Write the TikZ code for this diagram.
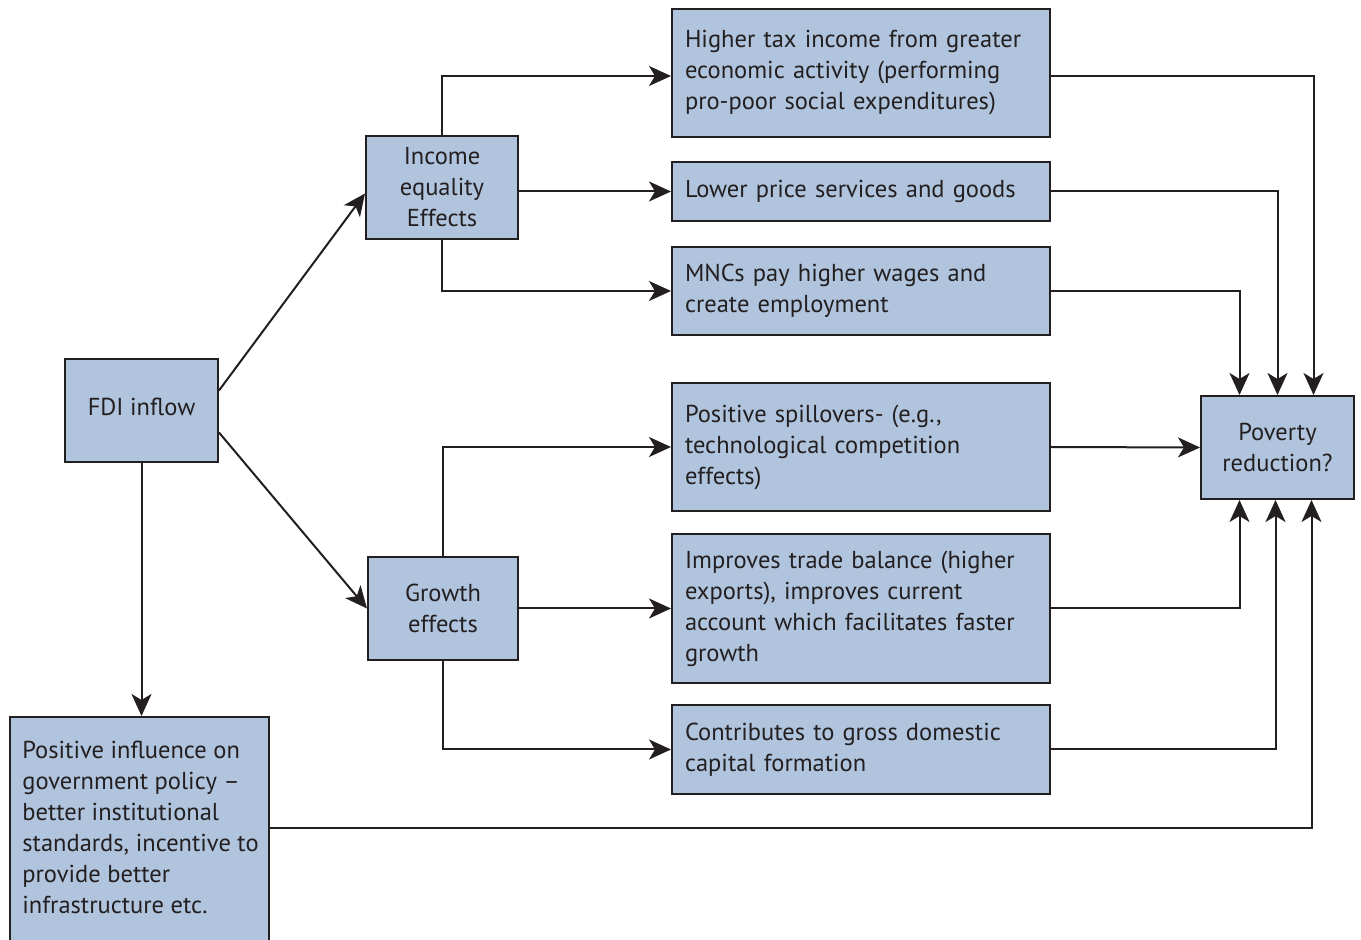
\documentclass[tikz,border=0pt]{standalone}
\usepackage{fontspec}
\setmainfont{PT Sans}
\usetikzlibrary{arrows.meta}
\definecolor{boxfill}{HTML}{B0C4DE}
\definecolor{ink}{HTML}{231F20}
\tikzset{
  txt/.style={text=ink, font=\fontsize{12.25}{15.5}\selectfont},
  box/.style={draw=ink, line width=1pt, fill=boxfill, inner sep=0pt, txt},
  cbox/.style={box, align=center},
  lbox/.style={box, align=left, text width=176pt, inner xsep=6.5pt, minimum width=189pt},
  arr/.style={draw=ink, line width=1pt, -{Stealth[length=11pt,width=10pt,inset=3pt]}},
}
\begin{document}
\begin{tikzpicture}[x=0.5pt,y=-0.5pt]
\useasboundingbox (0,0) rectangle (1361,940);
% left column
\node[cbox, minimum width=76.5pt, minimum height=51.5pt] (fdi) at (141.5,410.5) {\raisebox{4pt}{FDI inflow}};
\node[box, anchor=north west, minimum width=129.5pt, minimum height=130pt] (policy) at (9,716) {};
\node[txt, anchor=north west, align=left, inner sep=0pt] (policytxt) at (22,741)
  {Positive influence on\\ government policy –\\ better institutional\\ standards, incentive to\\ provide better\\ infrastructure etc.};
% middle column
\node[cbox, minimum width=76pt, minimum height=51.5pt] (inc) at (442,187.5) {Income\\ equality\\ Effects};
\node[cbox, minimum width=75pt, minimum height=51.5pt] (grow) at (443,608.5) {Growth\\ effects};
% right column
\node[lbox, minimum height=64pt] (tax) at (861,73)
  {Higher tax income from greater\\ economic activity (performing\\ pro-poor social expenditures)};
\node[lbox, minimum height=29.5pt] (low) at (861,191.5) {Lower price services and goods};
\node[lbox, minimum height=44pt] (mnc) at (861,291)
  {MNCs pay higher wages and\\ create employment};
\node[lbox, minimum height=64pt] (spill) at (861,447)
  {Positive spillovers- (e.g.,\\ technological competition\\ effects)};
\node[lbox, minimum height=74.5pt] (trade) at (861,608.5)
  {Improves trade balance (higher\\ exports), improves current\\ account which facilitates faster\\ growth};
\node[lbox, minimum height=44.5pt] (contrib) at (861,749.5)
  {Contributes to gross domestic\\ capital formation};
% target
\node[cbox, minimum width=76.5pt, minimum height=51.5pt] (pov) at (1277.5,447.5) {Poverty\\ reduction?};
% connectors
\draw[arr] ([yshift=10pt]fdi.east) -- ([yshift=-3pt]inc.west);
\draw[arr] ([yshift=-11pt]fdi.east) -- (grow.west);
\draw[arr] (fdi.south) -- (fdi.south |- policy.north);
\draw[arr] (inc.north) |- ([yshift=-1.5pt]tax.west);
\draw[arr] (inc.east |- low.west) -- (low.west);
\draw[arr] (inc.south) |- (mnc.west);
\draw[arr] (grow.north) |- (spill.west);
\draw[arr] (grow.east) -- (trade.west);
\draw[arr] (grow.south) |- (contrib.west);
\draw[arr] ([yshift=-1.5pt]tax.east) -| ([xshift=18pt]pov.north);
\draw[arr] (low.east) -| (pov.north);
\draw[arr] (mnc.east) -| ([xshift=-19pt]pov.north);
\draw[arr] (spill.east) -- (pov.west);
\draw[arr] (trade.east) -| ([xshift=-19pt]pov.south);
\draw[arr] (contrib.east) -| ([xshift=-1pt]pov.south);
\draw[arr] ([yshift=-56pt]policy.north east) -| ([xshift=17pt]pov.south);
\end{tikzpicture}
\end{document}
